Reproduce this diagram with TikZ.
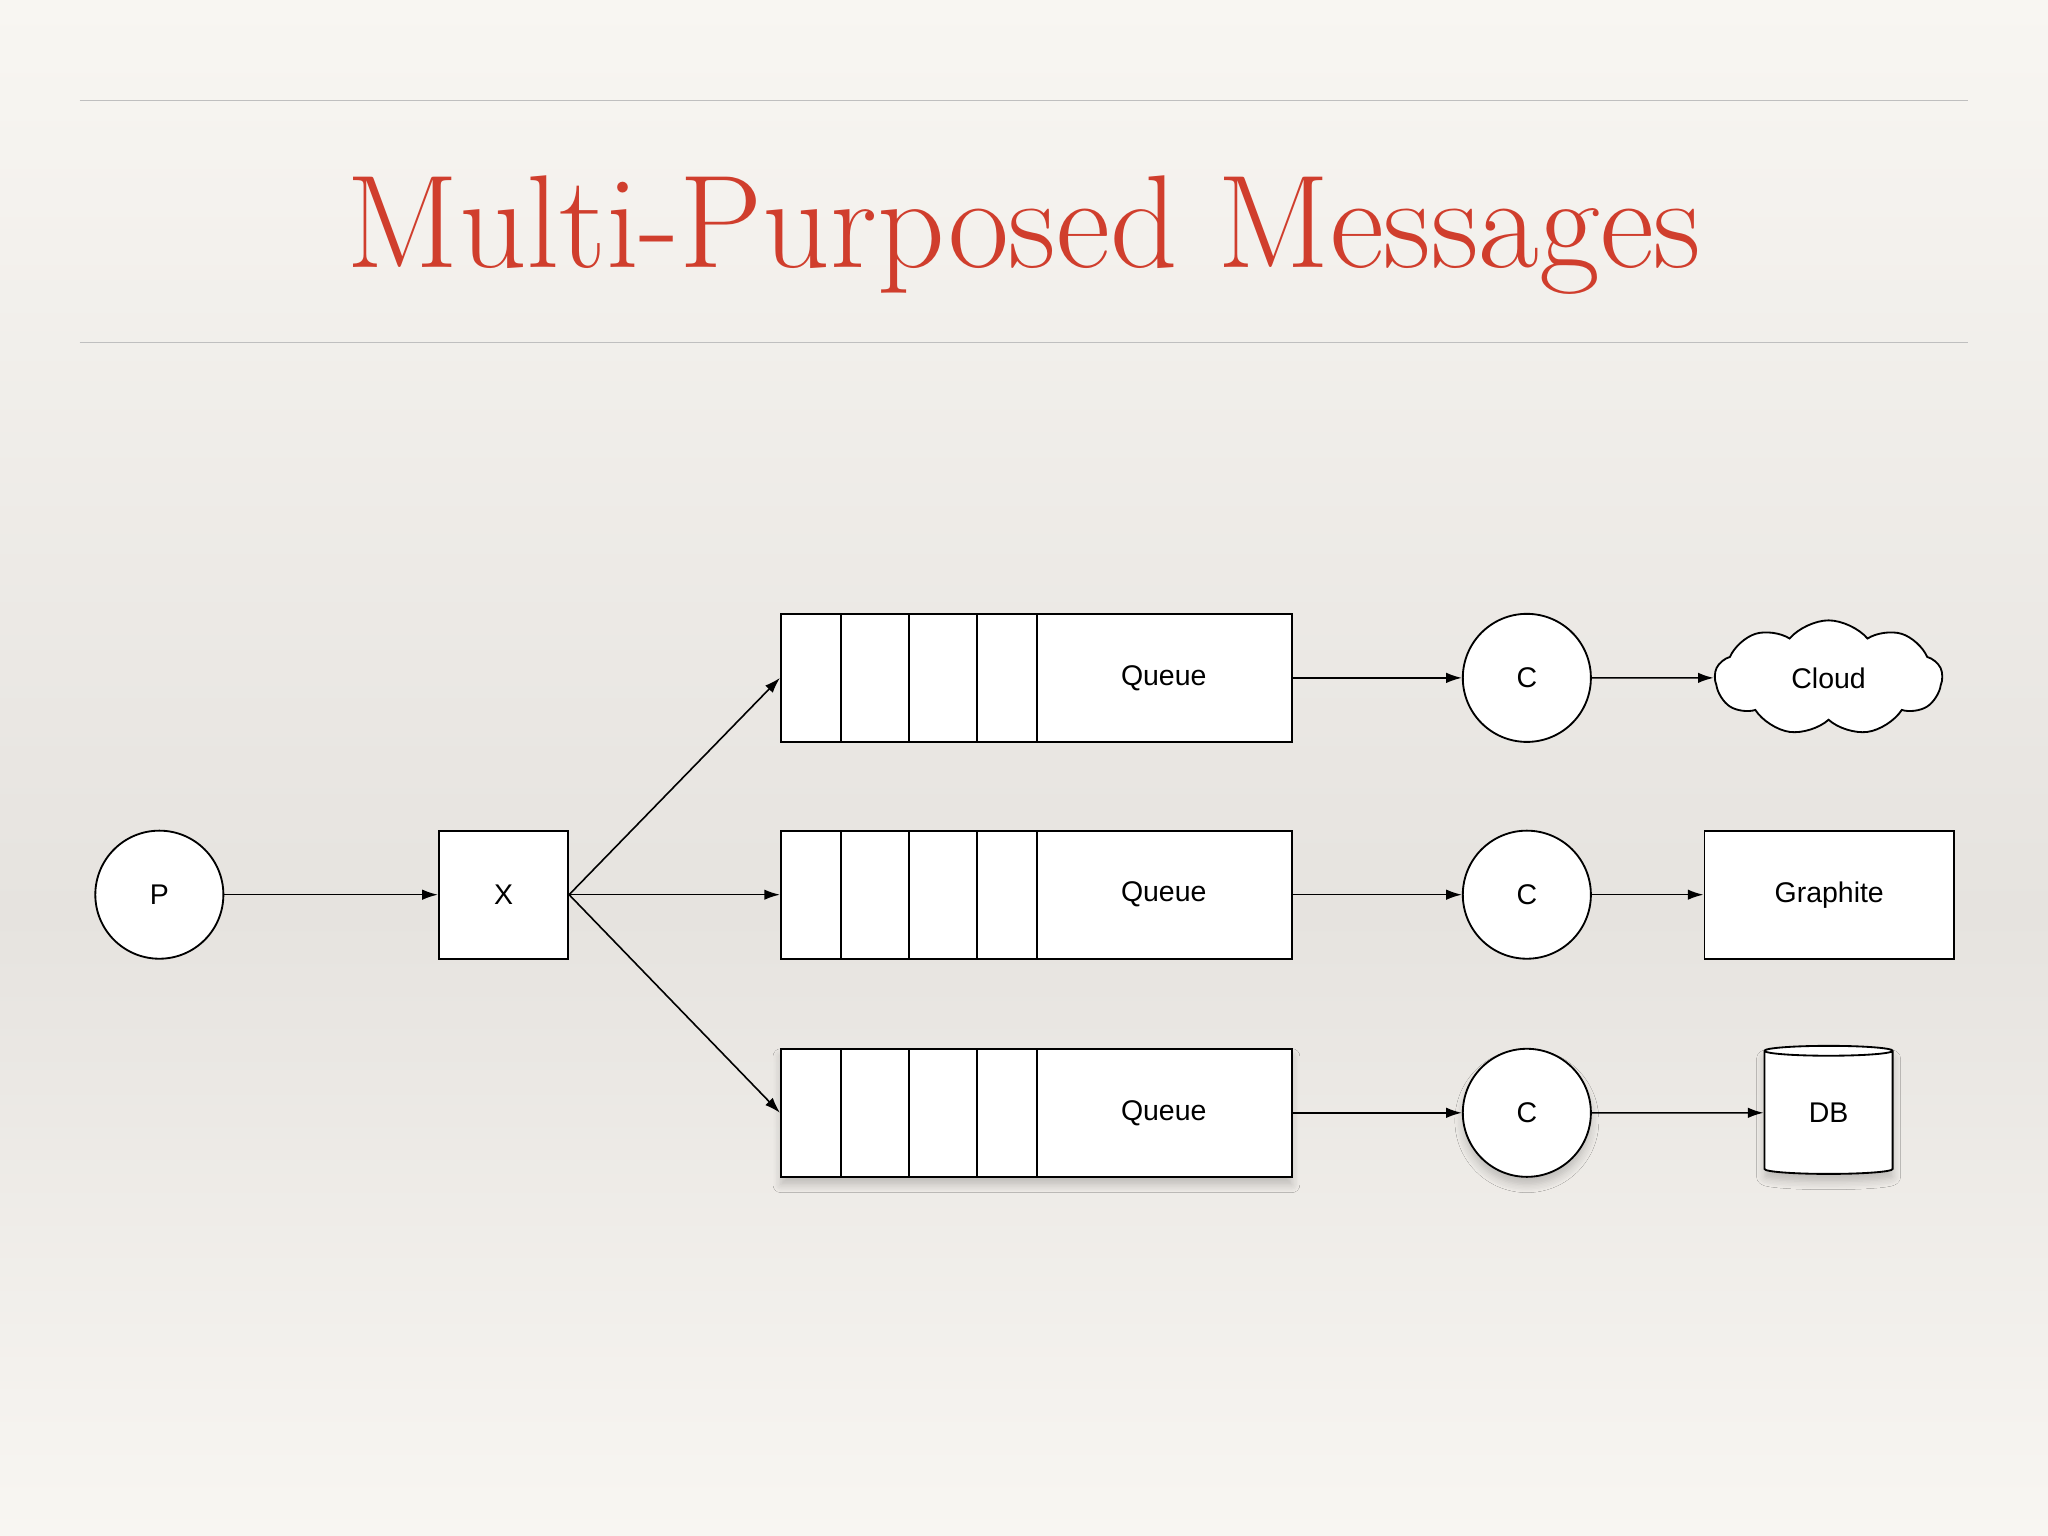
\documentclass[tikz,border=0pt]{standalone}
\usepackage{fontspec}
\setsansfont{Liberation Sans}
\usetikzlibrary{arrows.meta,shapes.geometric,shapes.symbols,shadows.blur}
\definecolor{titlered}{RGB}{208,62,45}
\definecolor{bgtop}{RGB}{248,246,242}
\definecolor{bgmid}{RGB}{230,227,223}
\tikzset{
  lbl/.style={font=\sffamily\fontsize{6.2}{8}\selectfont},
  box/.style={draw,fill=white,line width=0.4pt,lbl,inner sep=0pt},
  circ/.style={box,circle,minimum size=0.98cm},
  arr/.style={-{Latex[length=1.2mm,width=0.8mm]},line width=0.35pt},
  shad/.style={blur shadow={shadow xshift=0pt,shadow yshift=-0.6mm,shadow blur steps=6,shadow opacity=20}}
}
\begin{document}
\begin{tikzpicture}[x=0.01cm,y=-0.01cm]
\useasboundingbox (0,0) rectangle (1568,1176);
\shade[top color=bgtop,bottom color=bgmid] (0,0) rectangle (1568,700);
\shade[top color=bgmid,bottom color=bgtop] (0,700) rectangle (1568,1176);
\draw[gray!50,line width=0.3pt] (61,77) -- (1507,77) (61,262) -- (1507,262);
\node[text=titlered,font=\fontsize{28.8}{34}\selectfont] (title) at (784,180) {Multi-Purposed Messages};

\node[circ] (P) at (122,685) {P};
\node[box,minimum width=0.99cm,minimum height=0.98cm] (X) at (385.5,685) {X};
\foreach \i/\y in {1/519,2/685,3/852}{
  \ifnum\i=3
  \node[box,minimum width=3.91cm,minimum height=0.98cm,shad] (q\i) at (793.5,\y) {};
  \node[circ,shad] (c\i) at (1169,\y) {C};
  \else
  \node[box,minimum width=3.91cm,minimum height=0.98cm] (q\i) at (793.5,\y) {};
  \node[circ] (c\i) at (1169,\y) {C};
  \fi
  \node[lbl] (ql\i) at (891,\y) {Queue};
  \foreach \d in {644,696,748,794} \draw[line width=0.4pt] (\d,\y-49) -- (\d,\y+49);
  \draw[arr] (q\i) -- (c\i);
}
\node[box,cloud,cloud puffs=9,cloud puff arc=100,aspect=2.4,minimum width=1.74cm,minimum height=0.88cm] (cloud) at (1400,519) {Cloud};
\node[box,minimum width=1.91cm,minimum height=0.98cm] (gr) at (1400.5,685) {Graphite};
\node[box,cylinder,shape border rotate=90,aspect=0.25,minimum width=0.98cm,minimum height=0.98cm,shad] (db) at (1400,852) {DB};

\draw[arr] (P) -- (X);
\draw[arr] (X.east) -- (q1.west);
\draw[arr] (X.east) -- (q2.west);
\draw[arr] (X.east) -- (q3.west);
\draw[arr] (c1) -- (cloud);
\draw[arr] (c2) -- (gr);
\draw[arr] (c3) -- (db);
\end{tikzpicture}
\end{document}
